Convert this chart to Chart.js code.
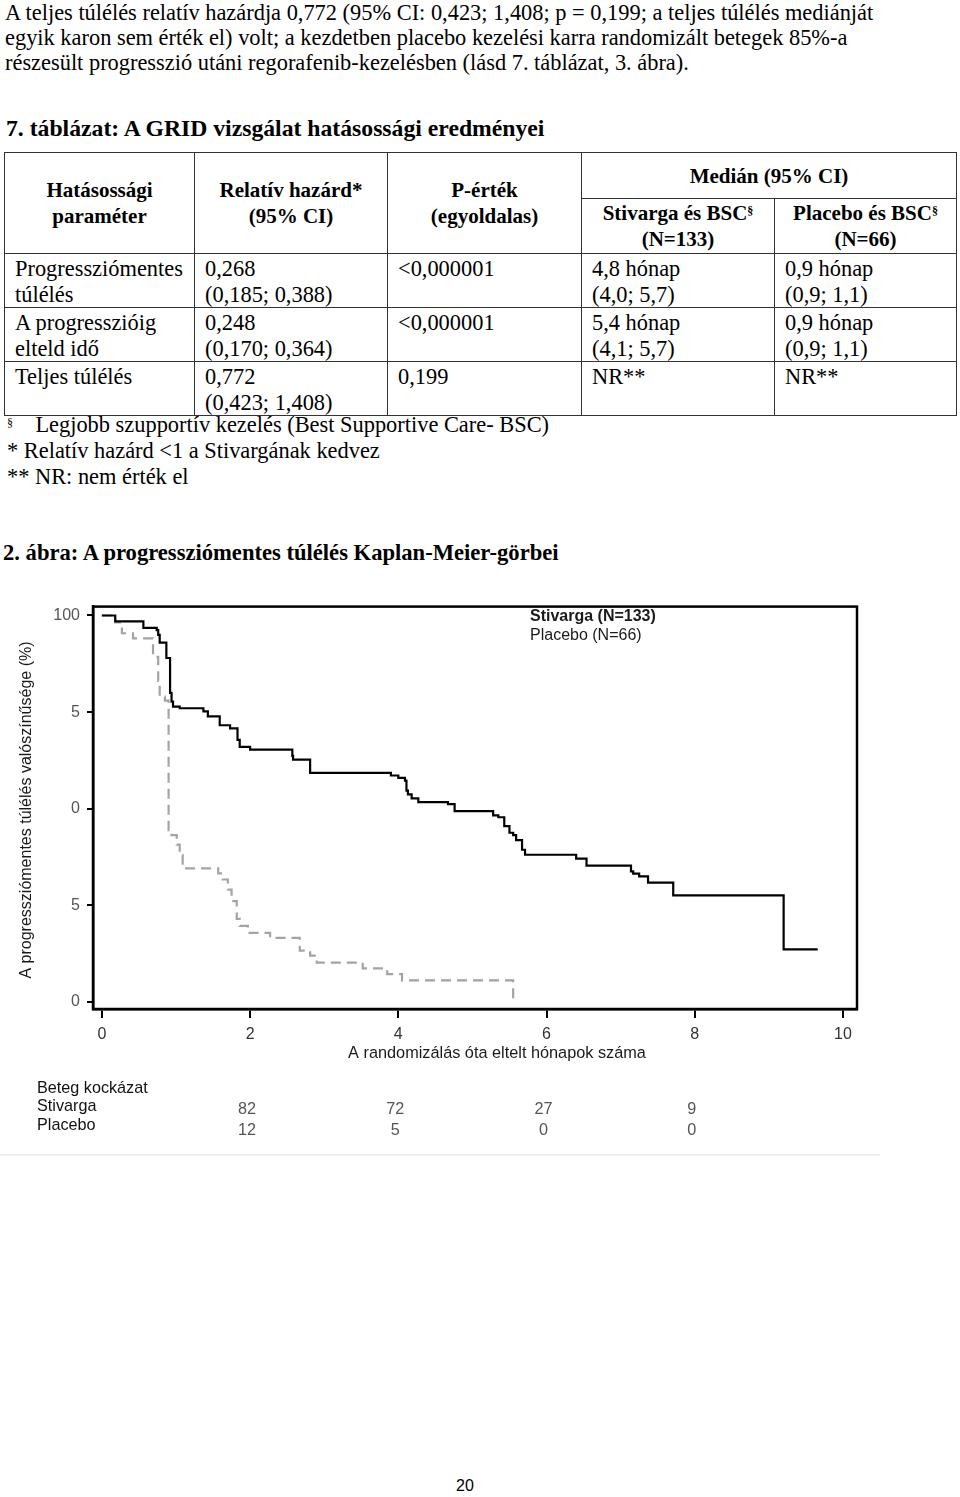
<!DOCTYPE html>
<html>
<head>
<meta charset="utf-8">
<script src="https://cdn.jsdelivr.net/npm/chart.js@4"></script>
<style>
  body { margin: 0; background: #fff; }
  #page { position: relative; width: 960px; height: 1497px; overflow: hidden; color: #000;
          font-family: "Liberation Serif", "Times New Roman", serif; font-size: 22.4px; }
  .abs { position: absolute; white-space: nowrap; }
  #intro { left: 5px; top: 0px; line-height: 25px; }
  #tblTitle { left: 6px; top: 115px; font-weight: bold; line-height: 26px; font-size: 23.7px; }
  #figTitle { left: 3px; top: 540px; font-weight: bold; line-height: 26px; font-size: 22.6px; }
  table { position: absolute; left: 4px; top: 152px; border-collapse: collapse; table-layout: fixed; }
  td, th { border: 1.5px solid #333; padding: 0; }
  th { font-weight: bold; text-align: center; vertical-align: middle; line-height: 26px; font-size: 21px; }
  td { vertical-align: top; line-height: 25.5px; padding: 2px 0 0 10px; }
  sup { font-size: 12px; vertical-align: top; position: relative; top: -2px; }
  #notes { left: 7px; top: 412px; line-height: 26px; }
  #pageNo { left: 456px; top: 1477px; font-family: "Liberation Sans", Arial, sans-serif; font-size: 16px; }
  #chartBox { position: absolute; left: 0; top: 590px; }
</style>
</head>
<body>
<div id="page">
  <div id="intro" class="abs">A teljes túlélés relatív hazárdja 0,772 (95% CI: 0,423; 1,408; p = 0,199; a teljes túlélés mediánját<br>egyik karon sem érték el) volt; a kezdetben placebo kezelési karra randomizált betegek 85%-a<br>részesült progresszió utáni regorafenib-kezelésben (lásd 7. táblázat, 3. ábra).</div>
  <div id="tblTitle" class="abs">7. táblázat: A GRID vizsgálat hatásossági eredményei</div>

  <table>
    <colgroup><col style="width:190px"><col style="width:193px"><col style="width:194px"><col style="width:193px"><col style="width:182px"></colgroup>
    <tr style="height:46px">
      <th rowspan="2">Hatásossági<br>paraméter</th>
      <th rowspan="2">Relatív hazárd*<br>(95% CI)</th>
      <th rowspan="2">P-érték<br>(egyoldalas)</th>
      <th colspan="2">Medián (95% CI)</th>
    </tr>
    <tr style="height:55px">
      <th>Stivarga és BSC<sup>§</sup><br>(N=133)</th>
      <th>Placebo és BSC<sup>§</sup><br>(N=66)</th>
    </tr>
    <tr style="height:51px">
      <td>Progressziómentes<br>túlélés</td><td>0,268<br>(0,185; 0,388)</td><td>&lt;0,000001</td><td>4,8 hónap<br>(4,0; 5,7)</td><td>0,9 hónap<br>(0,9; 1,1)</td>
    </tr>
    <tr style="height:54px">
      <td>A progresszióig<br>elteld idő</td><td>0,248<br>(0,170; 0,364)</td><td>&lt;0,000001</td><td>5,4 hónap<br>(4,1; 5,7)</td><td>0,9 hónap<br>(0,9; 1,1)</td>
    </tr>
    <tr style="height:53px">
      <td>Teljes túlélés</td><td>0,772<br>(0,423; 1,408)</td><td>0,199</td><td>NR**</td><td>NR**</td>
    </tr>
  </table>

  <div id="notes" class="abs"><sup>§</sup>&nbsp;&nbsp;&nbsp;&nbsp;Legjobb szupportív kezelés (Best Supportive Care- BSC)<br>* Relatív hazárd &lt;1 a Stivargának kedvez<br>** NR: nem érték el</div>

  <div id="figTitle" class="abs">2. ábra: A progressziómentes túlélés Kaplan-Meier-görbei</div>

  <div id="chartBox"><canvas id="km" width="960" height="580"></canvas></div>

  <div id="pageNo" class="abs">20</div>
</div>

<script>
// Kaplan-Meier data (months, % progression-free)
const stivargaMonths = [0, 0.18, 0.56, 0.74, 0.76, 0.78, 0.87, 0.92, 0.94, 0.96, 1.05, 1.37, 1.43, 1.59, 1.73, 1.83, 1.86, 2.0, 2.57, 2.58, 2.81, 3.9, 4.0, 4.09, 4.11, 4.13, 4.18, 4.27, 4.67, 4.76, 5.28, 5.35, 5.43, 5.5, 5.55, 5.59, 5.67, 5.71, 6.4, 6.54, 7.14, 7.17, 7.25, 7.37, 7.71, 9.2, 9.66];
const stivargaPct    = [100, 98.5, 96.8, 96.2, 95, 93, 89, 80, 77.7, 76.4, 76, 75.2, 73.9, 71.6, 70.8, 67.8, 66, 65.3, 63.7, 62.7, 59.3, 58.6, 58, 57.3, 54.7, 53.7, 52.7, 51.7, 51.2, 49.4, 48.3, 47.8, 45.5, 43.8, 43.2, 41.9, 39.4, 38.1, 37.1, 35.3, 33.8, 33.2, 32.5, 30.9, 27.6, 13.6, 13.6];

const placeboMonths = [0, 0.18, 0.27, 0.42, 0.69, 0.76, 0.78, 0.85, 0.9, 0.94, 1.01, 1.05, 1.09, 1.57, 1.63, 1.7, 1.75, 1.82, 1.86, 1.97, 2.27, 2.67, 2.81, 2.9, 3.52, 3.85, 4.05, 5.55];
const placeboPct    = [100, 98.2, 95.4, 94.1, 89.3, 83.1, 79, 78, 44.5, 43.2, 40.7, 38, 34.6, 33.3, 31.7, 29.1, 26.1, 21.5, 19.7, 17.9, 16.6, 13.3, 12.0, 10.2, 8.7, 7.2, 5.6, 0];

// axis ticks (the y labels are printed this way in the source figure)
const xTickValues = [0, 2, 4, 6, 8, 10];
const yTickValues = [0, 25, 50, 75, 100];
const yTickLabels = ['0', '5', '0', '5', '100'];

// patients at risk
const riskTimes    = [2, 4, 6, 8];
const riskStivarga = [82, 72, 27, 9];
const riskPlacebo  = [12, 5, 0, 0];

const legendLabels = ['Stivarga (N=133)', 'Placebo (N=66)'];
const yTitle = 'A progressziómentes túlélés valószínűsége (%)';
const xTitle = 'A randomizálás óta eltelt hónapok száma';

const SANS = '"Liberation Sans", Arial, sans-serif';

function toPoints(xs, ys) {
  return xs.map((x, i) => ({ x: x, y: ys[i] }));
}

// extra drawing: frame, legend text, axis titles, at-risk table
const decorations = {
  id: 'decorations',
  afterDraw(chart) {
    const ctx = chart.ctx;
    const a = chart.chartArea;
    const xs = chart.scales.x;
    ctx.save();

    ctx.strokeStyle = '#000';
    ctx.lineWidth = 2.5;
    ctx.strokeRect(a.left, a.top, a.right - a.left, a.bottom - a.top);

    ctx.fillStyle = '#1a1a1a';
    ctx.textBaseline = 'middle';
    ctx.textAlign = 'left';
    ctx.font = 'bold 16px ' + SANS;
    ctx.fillText(legendLabels[0], 530, 27);
    ctx.font = '16px ' + SANS;
    ctx.fillText(legendLabels[1], 530, 46);

    // y title
    ctx.save();
    ctx.translate(27, 220);
    ctx.rotate(-Math.PI / 2);
    ctx.textAlign = 'center';
    ctx.font = '16px ' + SANS;
    ctx.fillText(yTitle, 0, 0);
    ctx.restore();

    // x title
    ctx.textAlign = 'center';
    ctx.font = '16.3px ' + SANS;
    ctx.fillText(xTitle, 497, 464);

    // at-risk table
    ctx.font = '16.2px ' + SANS;
    ctx.textAlign = 'left';
    ctx.fillStyle = '#111';
    ctx.fillText('Beteg kockázat', 37, 499);
    ctx.fillText('Stivarga', 37, 517);
    ctx.fillText('Placebo', 37, 536);
    ctx.textAlign = 'center';
    ctx.fillStyle = '#555';
    riskTimes.forEach((t, i) => {
      const px = xs.getPixelForValue(t) - 3;
      ctx.fillText(String(riskStivarga[i]), px, 520);
      ctx.fillText(String(riskPlacebo[i]), px, 541);
    });

    // faint rule under the figure
    ctx.strokeStyle = '#eeeeee';
    ctx.lineWidth = 2;
    ctx.beginPath();
    ctx.moveTo(0, 565);
    ctx.lineTo(880, 565);
    ctx.stroke();

    ctx.restore();
  }
};

new Chart(document.getElementById('km'), {
  type: 'line',
  data: {
    datasets: [
      {
        label: legendLabels[0],
        data: toPoints(stivargaMonths, stivargaPct),
        stepped: 'before',
        borderColor: '#000',
        borderWidth: 2.2,
        pointRadius: 0,
        fill: false
      },
      {
        label: legendLabels[1],
        data: toPoints(placeboMonths, placeboPct),
        stepped: 'before',
        borderColor: '#a3a3a3',
        borderWidth: 2.2,
        borderDash: [10, 6],
        pointRadius: 0,
        fill: false
      }
    ]
  },
  options: {
    responsive: false,
    animation: false,
    devicePixelRatio: 1,
    layout: { padding: { left: 0, right: 103, top: 12, bottom: 0 } },
    plugins: { legend: { display: false }, tooltip: { enabled: false } },
    scales: {
      x: {
        type: 'linear',
        min: -0.12,
        max: 10.19,
        afterBuildTicks: (s) => { s.ticks = xTickValues.map(v => ({ value: v })); },
        afterFit: (s) => { s.height = 161; },
        border: { display: true, color: '#000', width: 2.5 },
        grid: { drawOnChartArea: false, drawTicks: true, tickLength: 9, color: '#000', lineWidth: 2 },
        ticks: { padding: 7, color: '#333', font: { family: SANS, size: 16 }, maxRotation: 0 }
      },
      y: {
        type: 'linear',
        min: -1.8,
        max: 102.3,
        afterBuildTicks: (s) => { s.ticks = yTickValues.map(v => ({ value: v })); },
        afterFit: (s) => { s.width = 93; },
        border: { display: true, color: '#000', width: 2.5 },
        grid: { drawOnChartArea: false, drawTicks: true, tickLength: 6, color: '#000', lineWidth: 2 },
        ticks: {
          padding: 7,
          color: '#555',
          font: { family: SANS, size: 16 },
          callback: (v) => {
            const i = yTickValues.indexOf(v);
            return i >= 0 ? yTickLabels[i] : '';
          }
        }
      }
    }
  },
  plugins: [decorations]
});
</script>
</body>
</html>
